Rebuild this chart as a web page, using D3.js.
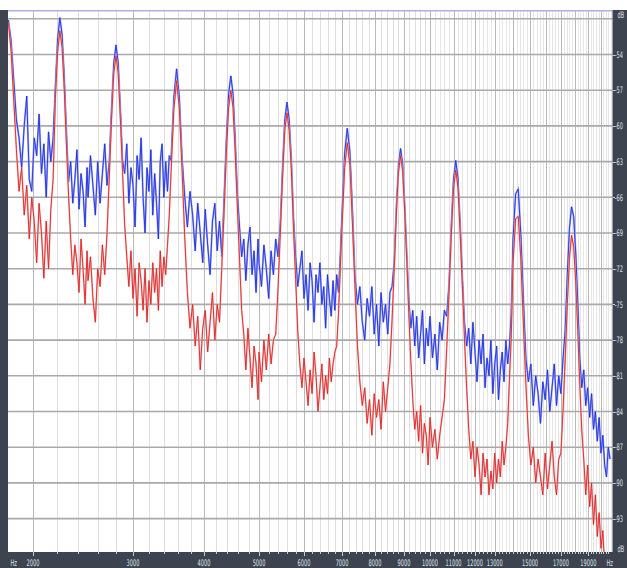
<!DOCTYPE html>
<html><head><meta charset="utf-8">
<script src="https://cdn.jsdelivr.net/npm/d3@7/dist/d3.min.js"></script>
<style>html,body{margin:0;padding:0;background:#fff;overflow:hidden}svg{display:block}</style>
</head><body>
<svg id="c" width="627" height="568"></svg>
<script>
// ---------- data ----------
const freqHz = [
1810,1830,1850,1870,1890,1910,1930,1950,1970,1990,2010,2030,2050,2070,2090,2110,2130,2150,2170,2190,2210,2230,2250,2270,2290,2310,2330,2350,2370,2390,2410,2430,2450,2470,2490,
2500,2525,2550,2575,2600,2625,2650,2675,2700,2725,2750,2775,2800,2825,2850,2875,2900,2925,2950,2975,3000,3025,3050,3075,3100,3125,3150,3175,3200,3225,3250,3275,3300,3325,3350,3375,3400,3425,3450,3475,
3500,3540,3580,3620,3660,3700,3740,3780,3820,3860,3900,3940,3980,4020,4060,4100,4140,4180,4220,4260,4300,4340,4380,4420,4460,4500,4540,4580,4620,4660,4700,4740,4780,4820,4860,4900,4940,4980,
5000,5050,5100,5150,5200,5250,5300,5350,5400,5450,5500,5550,5600,5650,5700,5750,5800,5850,5900,5950,6000,6050,6100,6150,6200,6250,6300,6350,6400,6450,6500,6550,6600,6650,6700,6750,6800,6850,6900,6950,
7000,7075,7150,7225,7300,7375,7450,7525,7600,7675,7750,7825,7900,7975,8050,8125,8200,8275,8350,8425,8500,8575,8650,8725,8800,8875,8950,9025,9100,9175,9250,9325,9400,9475,9550,9625,9700,9775,9850,9925,
10000,10100,10200,10300,10400,10500,10600,10700,10800,10900,11000,11100,11200,11300,11400,11500,11600,11700,11800,11900,12000,12100,12200,12300,12400,12500,12600,12700,12800,12900,13000,13100,13200,13300,13400,13500,13600,13700,13800,13900,
14000,14150,14300,14450,14600,14750,14900,15050,15200,15350,15500,15650,15800,15950,16100,16250,16400,16550,16700,16850,17000,17150,17300,17450,17600,17750,17900,18050,18200,18350,18500,18650,18800,18950,19100,19250,19400,19550,19700,19850,20000,20150,20300,20450,20600,20750
];
const blueDb = [
-51.1,-52.8,-56.2,-59.5,-61.0,-63.5,-60.0,-57.5,-64.5,-65.5,-61.0,-62.5,-59.0,-64.0,-61.5,-66.0,-60.5,-63.0,-61.0,-56.6,-52.7,-50.9,-52.3,-55.8,-60.4,-64.7,-63.0,-66.5,-64.5,-62.0,-67.0,-64.0,-65.5,-68.5,-63.5,
-66.0,-62.5,-65.0,-67.5,-63.0,-66.5,-64.0,-61.5,-65.0,-63.0,-58.5,-54.7,-53.2,-54.7,-58.5,-62.9,-64.0,-61.5,-66.5,-63.5,-65.0,-68.5,-62.5,-64.5,-61.0,-66.0,-69.0,-63.5,-65.5,-62.0,-67.5,-64.0,-66.5,-69.5,-63.0,-61.5,-66.0,-63.0,-65.5,-62.5,
-62.9,-57.6,-55.2,-57.6,-62.7,-66.0,-68.5,-65.5,-67.5,-70.5,-66.5,-69.0,-71.5,-67.0,-70.0,-72.5,-68.0,-66.5,-70.5,-68.0,-71.0,-66.0,-61.1,-57.3,-55.8,-57.3,-61.1,-65.7,-68.5,-71.0,-69.5,-73.0,-70.0,-68.5,-72.5,-70.5,-74.0,-69.5,
-71.5,-73.5,-70.0,-72.0,-74.5,-70.5,-72.5,-69.5,-71.0,-68.2,-63.5,-59.5,-58.0,-59.5,-62.8,-67.7,-71.0,-73.5,-72.0,-70.5,-74.5,-72.5,-75.5,-71.5,-73.0,-76.5,-72.5,-74.0,-71.5,-75.0,-73.5,-77.0,-72.5,-74.5,-76.0,-73.0,-75.5,-72.5,-74.0,-70.9,
-67.3,-62.3,-60.2,-62.1,-66.9,-72.5,-75.0,-73.5,-76.5,-78.0,-74.5,-76.0,-73.5,-77.5,-75.0,-78.5,-74.0,-76.5,-75.0,-77.5,-74.0,-73.5,-71.4,-66.8,-63.3,-61.9,-63.2,-66.6,-70.7,-74.5,-77.0,-75.5,-78.5,-76.0,-79.5,-77.5,-75.5,-80.0,-77.0,-78.5,
-76.0,-79.5,-77.5,-80.5,-76.5,-78.0,-75.5,-76.0,-73.3,-68.4,-64.5,-62.9,-64.4,-68.2,-72.6,-76.5,-78.5,-77.0,-80.0,-76.5,-79.0,-81.5,-78.0,-80.0,-77.5,-82.0,-79.5,-81.0,-78.0,-82.5,-80.0,-78.5,-83.0,-80.5,-79.0,-81.5,-78.0,-80.0,-78.5,-75.7,
-69.5,-65.7,-65.3,-69.1,-74.5,-79.5,-81.5,-80.0,-83.5,-81.0,-82.5,-85.0,-81.5,-83.0,-80.5,-84.0,-82.0,-80.0,-83.5,-81.0,-82.5,-79.5,-77.1,-72.4,-68.6,-66.8,-67.6,-70.6,-74.7,-79.5,-82.0,-80.5,-83.5,-82.0,-84.5,-82.5,-85.5,-84.0,-86.5,-84.5,-87.5,-86.0,-88.5,-89.5,-87.0,-88.0
];
const redDb = [
-51.3,-53.7,-57.9,-62.0,-65.5,-63.5,-67.5,-65.0,-69.5,-66.0,-68.0,-71.5,-66.5,-69.0,-72.8,-68.0,-72.0,-67.0,-64.5,-57.7,-53.8,-52.0,-53.4,-56.9,-61.5,-65.8,-69.5,-72.5,-70.0,-71.5,-74.0,-69.5,-72.0,-75.0,-70.5,
-73.0,-71.0,-74.5,-76.5,-72.0,-73.5,-70.0,-72.5,-69.0,-64.3,-59.4,-55.6,-54.1,-55.6,-59.4,-63.8,-68.3,-71.0,-73.5,-70.5,-74.5,-72.0,-76.0,-71.5,-73.0,-75.5,-72.0,-76.5,-73.0,-75.0,-71.5,-74.0,-72.0,-75.5,-70.5,-73.5,-71.0,-72.5,-70.0,-67.5,
-63.9,-58.6,-56.2,-58.6,-63.7,-69.4,-74.0,-77.0,-75.0,-78.5,-76.0,-80.5,-77.0,-75.5,-79.0,-76.5,-74.0,-78.0,-75.0,-76.5,-71.8,-67.2,-62.3,-58.5,-57.0,-58.5,-62.3,-66.9,-71.2,-75.5,-77.5,-80.5,-77.0,-79.5,-82.0,-78.5,-80.0,-83.0,
-79.0,-81.5,-78.0,-80.5,-77.5,-80.0,-78.0,-77.5,-73.7,-69.1,-64.4,-60.4,-58.9,-60.4,-63.7,-68.6,-72.9,-77.2,-80.0,-82.0,-79.5,-81.5,-83.5,-80.5,-82.5,-79.0,-81.0,-84.0,-82.0,-80.0,-83.0,-81.0,-82.5,-79.5,-81.5,-80.0,-79.0,-78.5,-75.8,-72.1,
-68.5,-63.5,-61.4,-63.3,-68.1,-73.4,-78.4,-81.5,-83.5,-82.0,-85.0,-83.0,-86.0,-82.5,-84.5,-83.0,-85.5,-81.5,-84.0,-82.0,-80.0,-76.3,-72.0,-67.4,-63.9,-62.5,-63.8,-67.2,-71.3,-75.7,-79.7,-83.0,-85.5,-84.0,-86.5,-83.5,-87.5,-85.0,-86.0,-88.5,
-84.5,-87.0,-85.5,-88.0,-86.0,-84.5,-83.0,-78.7,-74.1,-69.2,-65.3,-63.7,-65.2,-69.0,-73.4,-77.9,-82.0,-85.5,-88.0,-86.5,-89.5,-87.0,-88.5,-91.0,-87.5,-89.5,-88.0,-91.0,-89.0,-90.5,-87.5,-90.0,-88.0,-89.5,-86.5,-88.5,-87.0,-85.0,-81.3,-77.8,
-71.6,-67.8,-67.6,-71.2,-76.6,-81.7,-86.0,-88.5,-87.0,-90.0,-88.0,-89.5,-91.0,-87.5,-90.5,-88.5,-86.5,-89.5,-91.0,-88.0,-87.5,-83.8,-79.6,-74.9,-71.1,-69.2,-70.1,-73.1,-77.2,-81.6,-85.6,-88.0,-91.0,-88.5,-92.0,-90.0,-93.5,-91.0,-94.5,-92.5,-95.5,-94.0,-97.0,-97.0,-97.0,-97.0
];
const freqTickLabels = [2000,3000,4000,5000,6000,7000,8000,9000,10000,11000,12000,13000,15000,17000,19000];
const dbTickLabels = [-54,-57,-60,-63,-66,-69,-72,-75,-78,-81,-84,-87,-90,-93];
const dbGridLines = [-51,-54,-57,-60,-63,-66,-69,-72,-75,-78,-81,-84,-87,-90,-93];

// ---------- layout ----------
const W = 627, H = 568;
const plotL = 8, plotR = 612.5, plotT = 10, plotB = 552;
const panel = '#3d4450';

const svg = d3.select('#c');
const x = d3.scaleLog().domain([2000, 20000]).range([33, 601]);
const y = d3.scaleLinear().domain([-54, -93]).range([54.5, 518.6]);

svg.append('rect').attr('width', W).attr('height', H).attr('fill', '#fff');

// vertical grid
const gridF = d3.range(1800, 20801, 200);
svg.append('g').selectAll('line').data(gridF).join('line')
  .attr('x1', d => Math.round(x(d)) + 0.5).attr('x2', d => Math.round(x(d)) + 0.5)
  .attr('y1', plotT).attr('y2', plotB)
  .attr('stroke', d => d % 1000 === 0 ? '#b9b9b9' : (d < 10000 ? '#dedede' : '#e6e6e6')).attr('stroke-width', 1);

// horizontal grid
svg.append('g').selectAll('line').data(dbGridLines).join('line')
  .attr('x1', plotL).attr('x2', plotR)
  .attr('y1', d => y(d)).attr('y2', d => y(d))
  .attr('stroke', '#a9a9a9').attr('stroke-width', 1.6);

// clip
svg.append('clipPath').attr('id', 'pc').append('rect')
  .attr('x', plotL).attr('y', plotT).attr('width', plotR - plotL).attr('height', plotB - plotT);

const blueData = freqHz.map((f, i) => [f, blueDb[i]]);
const redData = freqHz.map((f, i) => [f, redDb[i]]);
const line = d3.line().x(d => x(d[0])).y(d => y(d[1]));

const lg = svg.append('g').attr('clip-path', 'url(#pc)');
lg.append('path').datum(blueData).attr('d', line).attr('fill', 'none').attr('stroke', '#a4acf3').attr('stroke-width', 1.9);
lg.append('path').datum(blueData).attr('d', line).attr('fill', 'none').attr('stroke', '#1f2fe0').attr('stroke-width', 0.9);
lg.append('path').datum(redData).attr('d', line).attr('fill', 'none').attr('stroke', '#f3acac').attr('stroke-width', 1.8).attr('opacity', 0.8);
lg.append('path').datum(redData).attr('d', line).attr('fill', 'none').attr('stroke', '#dc2424').attr('stroke-width', 0.9);

// top border
svg.append('rect').attr('x', plotL).attr('y', plotT).attr('width', plotR - plotL).attr('height', 1.5).attr('fill', '#b0b0de');

// panels
svg.append('rect').attr('x', 0).attr('y', plotT).attr('width', plotL).attr('height', H - plotT).attr('fill', panel);
svg.append('rect').attr('x', 0).attr('y', plotB).attr('width', W).attr('height', H - plotB).attr('fill', panel);
svg.append('rect').attr('x', plotR).attr('y', plotT).attr('width', W - plotR).attr('height', H - plotT).attr('fill', panel);

const txtFill = '#dfe3e8';
const font = '"DejaVu Sans",sans-serif';
const sx = 0.56;
function label(px, py, s, anchor) {
  svg.append('text')
    .attr('transform', `translate(${px},${py}) scale(${sx},1)`)
    .attr('text-anchor', anchor || 'start')
    .attr('font-family', font).attr('font-size', 9).attr('fill', txtFill)
    .text(s);
}

// bottom ticks
svg.append('g').selectAll('line').data(gridF.filter(f => x(f) > plotL + 2 && x(f) < plotR - 2)).join('line')
  .attr('x1', d => Math.round(x(d)) + 0.5).attr('x2', d => Math.round(x(d)) + 0.5)
  .attr('y1', plotB).attr('y2', d => freqTickLabels.includes(d) ? plotB + 4 : plotB + 2)
  .attr('stroke', '#c8ccd2').attr('stroke-width', 1);

// bottom labels
freqTickLabels.forEach(f => label(x(f), 566, String(f), 'middle'));
label(10.5, 566, 'Hz');
label(606.5, 566, 'Hz');

// right ticks & labels
svg.append('g').selectAll('line').data(dbTickLabels).join('line')
  .attr('x1', plotR).attr('x2', plotR + 2.5)
  .attr('y1', d => Math.round(y(d)) + 0.5).attr('y2', d => Math.round(y(d)) + 0.5)
  .attr('stroke', '#c8ccd2');
dbTickLabels.forEach(v => label(plotR + 2.3, y(v) + 3.2, String(v)));
label(plotR + 5, 17.5, 'dB');
label(plotR + 5, 552, 'dB');
</script>
</body></html>
